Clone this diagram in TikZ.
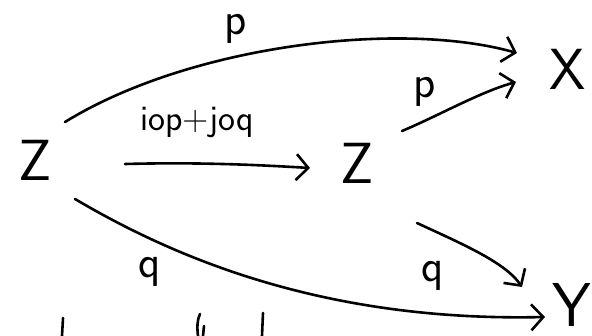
\documentclass[tikz,border=0pt]{standalone}
\usetikzlibrary{arrows.meta}
\begin{document}
\begin{tikzpicture}[x=1pt,y=-1pt,
  obj/.style={font=\sffamily\fontsize{58}{58}\selectfont, inner sep=0pt},
  lab/.style={font=\sffamily\fontsize{46}{46}\selectfont, inner sep=0pt},
  labsm/.style={font=\sffamily\fontsize{36}{36}\selectfont, inner sep=0pt},
  arr/.style={line width=2.6pt, line cap=round, -{Straight Barb[length=12pt,width=26pt,line width=2.6pt]}},
  stroke/.style={line width=2.6pt, line cap=round}]
\useasboundingbox (0,0) rectangle (592,335);
% objects
\node[obj] (Z1) at (35,160) {Z};
\node[obj] (Z2) at (357,163) {Z};
\node[obj] (X) at (568,69) {X};
\node[obj, font=\sffamily\fontsize{62}{62}\selectfont] (Y) at (572,305) {Y};
% connector end points
\coordinate (t1) at (65,122);
\coordinate (t2) at (517,53);
\coordinate (m1) at (125,164);
\coordinate (m2) at (310,168);
\coordinate (p1) at (402,131);
\coordinate (p2) at (516,82);
\coordinate (b1) at (75,199);
\coordinate (b2) at (545,317);
\coordinate (q1) at (417,223);
\coordinate (q2) at (522,287);
% connectors
\draw[arr] (t1) .. controls (190,45) and (400,20) .. (t2);
\draw[arr] (m1) .. controls (200,162) and (260,165) .. (m2);
\draw[arr] (p1) .. controls (440,115) and (480,92) .. (p2);
\draw[arr] (b1) .. controls (170,255) and (320,322) .. (b2);
\draw[arr] (q1) .. controls (460,243) and (505,262) .. (q2);
% labels
\node[lab] (lp1) at (236,29) {p};
\node[labsm] (lij) at (197,122) {iop+joq};
\node[lab] (lp2) at (425,92) {p};
\node[lab] (lq1) at (150,272) {q};
\node[lab] (lq2) at (433,276) {q};
% cut-off strokes at the bottom edge
\draw[stroke] (63,318) -- (62,336);
\draw[stroke] (200,314) .. controls (197,320) and (197,328) .. (198,336);
\draw[stroke] (204,326) -- (203,336);
\draw[stroke] (263,313) -- (262,336);
\end{tikzpicture}
\end{document}
